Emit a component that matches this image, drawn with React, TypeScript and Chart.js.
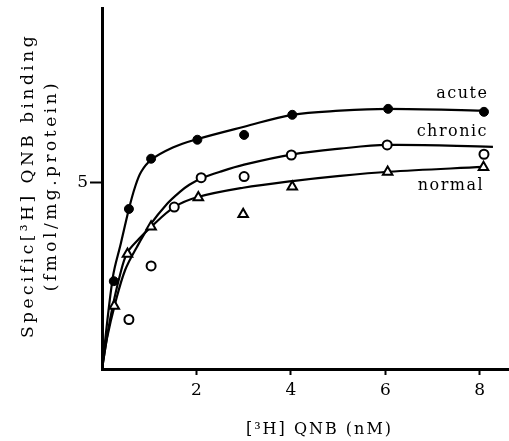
import React, { useEffect, useRef } from 'react';
import { Chart, registerables } from 'chart.js';

Chart.register(...registerables);

// measured points
const acuteX = [0.25, 0.57, 1.04, 2.02, 3.01, 4.03, 6.06, 8.09];
const acuteY = [2.36, 4.30, 5.65, 6.16, 6.29, 6.83, 6.99, 6.91];
const chronicX = [0.57, 1.04, 1.53, 2.10, 3.01, 4.01, 6.04, 8.09];
const chronicY = [1.33, 2.77, 4.35, 5.14, 5.17, 5.75, 6.02, 5.77];
const normalX = [0.26, 0.54, 1.04, 2.04, 2.99, 4.03, 6.05, 8.08];
const normalY = [1.69, 3.09, 3.82, 4.61, 4.16, 4.90, 5.29, 5.42];

// fitted curves as drawn in the figure
const acuteCurveX = [0, 0.23, 0.40, 0.57, 0.70, 0.83, 1.04, 1.50, 1.97, 3.01, 4.03, 5.04, 6.06, 8.09];
const acuteCurveY = [0, 2.47, 3.38, 4.30, 4.89, 5.30, 5.62, 5.95, 6.16, 6.51, 6.83, 6.94, 6.99, 6.94];
const chronicCurveX = [0, 0.11, 0.28, 0.49, 0.74, 1.02, 1.38, 1.65, 1.85, 2.10, 2.50, 3.01, 4.01, 5.04, 6.04, 8.28];
const chronicCurveY = [0, 0.85, 1.77, 2.66, 3.28, 3.87, 4.44, 4.76, 4.95, 5.12, 5.30, 5.49, 5.76, 5.92, 6.02, 5.97];
const normalCurveX = [0, 0.13, 0.23, 0.38, 0.53, 0.78, 1.04, 1.53, 2.03, 2.99, 4.03, 5.04, 6.06, 8.07];
const normalCurveY = [0, 1.04, 1.71, 2.52, 3.11, 3.49, 3.82, 4.35, 4.62, 4.87, 5.05, 5.19, 5.30, 5.43];

const xTicks = [2, 4, 6, 8];
const yTicks = [5];

const labelTexts = ['acute', 'chronic', 'normal'];
const labelX = [7.63, 7.42, 7.39];
const labelY = [7.40, 6.37, 4.92];

const xTitle = '[³H] QNB (nM)';
const yTitle = ['Specific[³H] QNB binding', '(fmol/mg.protein)'];

const FONT = "'DejaVu Serif', serif";

const pts = (xs: number[], ys: number[]) => xs.map((x, i) => ({ x, y: ys[i] }));

function wrapTitle(s: any, spacing: string, dx: number, dy: number) {
  if (s.__wrapped) return;
  const orig = s.drawTitle.bind(s);
  s.drawTitle = (...args: any[]) => {
    const c = s.ctx;
    c.save();
    c.letterSpacing = spacing;
    c.translate(dx, dy);
    orig(...args);
    c.restore();
  };
  s.__wrapped = true;
}

export default function App() {
  const ref = useRef<HTMLCanvasElement | null>(null);

  useEffect(() => {
    if (!ref.current) return;
    const labelPlugin = {
      id: 'curveLabels',
      afterDatasetsDraw(chart: any) {
        const ctx = chart.ctx;
        const xs = chart.scales.x;
        const ys = chart.scales.y;
        ctx.save();
        ctx.letterSpacing = '1.5px';
        ctx.font = `16px ${FONT}`;
        ctx.fillStyle = '#000';
        ctx.textAlign = 'center';
        ctx.textBaseline = 'middle';
        labelTexts.forEach((t, i) => {
          ctx.fillText(t, xs.getPixelForValue(labelX[i]), ys.getPixelForValue(labelY[i]));
        });
        ctx.restore();
      },
    };

    const curve = (xs: number[], ys: number[]) => ({
      type: 'line' as const,
      data: pts(xs, ys),
      borderColor: '#000',
      borderWidth: 2.2,
      pointRadius: 0,
      fill: false,
      tension: 0.35,
      order: 2,
    });

    const chart = new Chart(ref.current, {
      type: 'scatter',
      data: {
        datasets: [
          curve(acuteCurveX, acuteCurveY),
          curve(chronicCurveX, chronicCurveY),
          curve(normalCurveX, normalCurveY),
          {
            label: 'acute',
            data: pts(acuteX, acuteY),
            pointStyle: 'circle',
            pointRadius: 4.5,
            backgroundColor: '#000',
            borderColor: '#000',
            borderWidth: 1,
            showLine: false,
            order: 1,
          },
          {
            label: 'chronic',
            data: pts(chronicX, chronicY),
            pointStyle: 'circle',
            pointRadius: 4.5,
            backgroundColor: '#fff',
            borderColor: '#000',
            borderWidth: 2,
            showLine: false,
            order: 1,
          },
          {
            label: 'normal',
            data: pts(normalX, normalY),
            pointStyle: 'triangle',
            pointRadius: 5.5,
            backgroundColor: '#fff',
            borderColor: '#000',
            borderWidth: 2,
            showLine: false,
            order: 1,
          },
        ] as any,
      },
      options: {
        animation: false,
        responsive: false,
        maintainAspectRatio: false,
        layout: { autoPadding: false, padding: { top: 8, left: 0, right: 0, bottom: 0 } },
        plugins: { legend: { display: false }, tooltip: { enabled: false } },
        scales: {
          x: {
            type: 'linear',
            min: 0,
            max: 8.62,
            afterBuildTicks: (s: any) => { s.ticks = xTicks.map((v) => ({ value: v })); },
            afterFit: (s: any) => {
              s.height = 72;
              s.paddingLeft = 0;
              s.paddingRight = 0;
              wrapTitle(s, '2px', 14, 0);
            },
            grid: { display: true, drawOnChartArea: false, drawTicks: true, tickLength: 6, tickWidth: 2, tickColor: '#000' },
            border: { display: true, color: '#000', width: 3 },
            ticks: { color: '#000', font: { family: FONT, size: 17 }, padding: 5, maxRotation: 0, autoSkip: false },
            title: { display: true, text: xTitle, color: '#000', font: { family: FONT, size: 16 }, padding: { top: 0, bottom: 2 } },
          },
          y: {
            type: 'linear',
            min: 0,
            max: 9.7,
            afterBuildTicks: (s: any) => { s.ticks = yTicks.map((v) => ({ value: v })); },
            afterFit: (s: any) => {
              s.width = 102;
              s.paddingTop = 0;
              s.paddingBottom = 0;
              wrapTitle(s, '3.5px', 0, -3);
            },
            grid: { display: true, drawOnChartArea: false, drawTicks: true, tickLength: 12, tickWidth: 2, tickColor: '#000' },
            border: { display: true, color: '#000', width: 3 },
            ticks: { color: '#000', font: { family: FONT, size: 17 }, padding: 2, autoSkip: false },
            title: { display: true, text: yTitle, color: '#000', font: { family: FONT, size: 17, lineHeight: 1.3 }, padding: { top: 18, bottom: 0 } },
          },
        },
      } as any,
      plugins: [labelPlugin],
    });
    return () => chart.destroy();
  }, []);

  return (
    <div style={{ position: 'absolute', left: 0, top: 0, width: 509, height: 441, background: '#fff' }}>
      <canvas ref={ref} width={509} height={441} style={{ display: 'block', width: 509, height: 441 }} />
    </div>
  );
}
